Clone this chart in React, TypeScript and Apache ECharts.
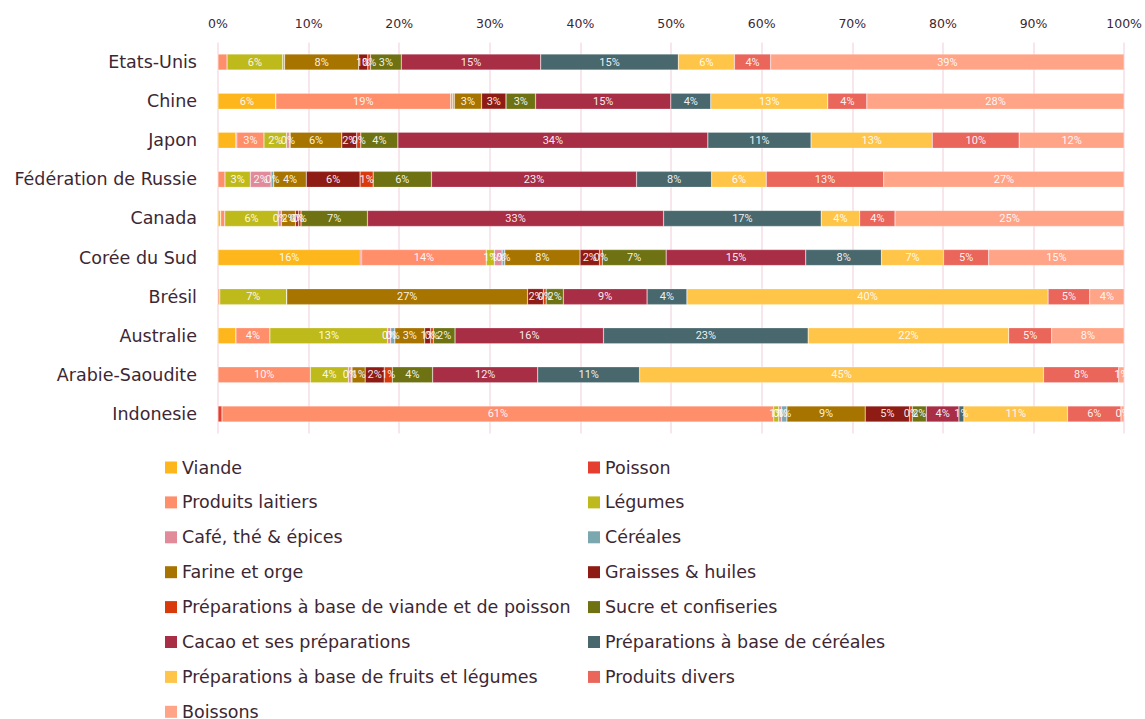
import React, { useEffect, useRef } from "react";
import * as echarts from "echarts";

const countries = [
  "Etats-Unis",
  "Chine",
  "Japon",
  "Fédération de Russie",
  "Canada",
  "Corée du Sud",
  "Brésil",
  "Australie",
  "Arabie-Saoudite",
  "Indonesie",
];

const xTicks = [0, 10, 20, 30, 40, 50, 60, 70, 80, 90, 100];

// Shares (%) per country, in the order of `countries`
const viande = [0, 6.37, 1.98, 0, 0.3, 15.7, 0, 1.98, 0, 0];
const poisson = [0, 0, 0.1, 0, 0, 0.15, 0, 0, 0, 0.44];
const produitsLaitiers = [1.0, 19.27, 3.0, 0.77, 0.45, 13.74, 0.2, 3.75, 10.2, 60.95];
const legumes = [6.15, 0.2, 2.5, 2.8, 5.9, 0.9, 7.4, 13.0, 4.2, 0.55];
const cafe = [0.2, 0.2, 0.3, 2.3, 0.35, 0.85, 0, 0.35, 0.3, 0.3];
const cereales = [0, 0, 0.1, 0.3, 0, 0.3, 0, 0.45, 0.1, 0.6];
const farine = [8.2, 3.0, 5.7, 3.6, 1.57, 8.3, 26.6, 3.3, 1.45, 8.65];
const graisses = [1.0, 2.7, 1.65, 5.95, 0.3, 2.15, 1.75, 0.65, 2.1, 4.9];
const prepViande = [0.3, 0, 0.45, 1.45, 0.3, 0.3, 0.3, 0.3, 0.9, 0.3];
const sucre = [3.4, 3.25, 4.1, 6.45, 7.33, 7.05, 1.9, 2.4, 4.45, 1.55];
const cacao = [15.4, 14.9, 34.25, 22.7, 32.7, 15.4, 9.25, 16.4, 11.6, 3.6];
const prepCereales = [15.2, 4.4, 11.4, 8.3, 17.4, 8.35, 4.4, 22.6, 11.25, 0.55];
const prepFruits = [6.2, 12.9, 13.4, 6.05, 4.25, 6.85, 39.9, 22.15, 44.6, 11.45];
const divers = [4.0, 4.3, 9.6, 13.0, 3.9, 4.97, 4.6, 4.75, 8.3, 5.9];
const boissons = [39.05, 28.35, 11.6, 26.6, 25.3, 14.95, 3.8, 8.0, 0.6, 0.35];

const seriesNames = [
  "Viande",
  "Poisson",
  "Produits laitiers",
  "Légumes",
  "Café, thé & épices",
  "Céréales",
  "Farine et orge",
  "Graisses & huiles",
  "Préparations à base de viande et de poisson",
  "Sucre et confiseries",
  "Cacao et ses préparations",
  "Préparations à base de céréales",
  "Préparations à base de fruits et légumes",
  "Produits divers",
  "Boissons",
];

const seriesValues = [
  viande,
  poisson,
  produitsLaitiers,
  legumes,
  cafe,
  cereales,
  farine,
  graisses,
  prepViande,
  sucre,
  cacao,
  prepCereales,
  prepFruits,
  divers,
  boissons,
];

const seriesColors = [
  "#FDB71C",
  "#E53E30",
  "#FF8E6B",
  "#BFBA1B",
  "#E08A9A",
  "#7BA7AE",
  "#A87400",
  "#8E1C14",
  "#D93A0B",
  "#6E7212",
  "#A82E46",
  "#48686E",
  "#FFC548",
  "#EA655A",
  "#FFA487",
];

const TEXT = "#3d2733";
const FONT = "'DejaVu Sans', sans-serif";
const LABEL_FONT = "Roboto, sans-serif";

export default function App() {
  const ref = useRef<HTMLDivElement>(null);

  useEffect(() => {
    if (!ref.current) return;
    const chart = echarts.init(ref.current, undefined, { renderer: "svg" });

    const totals = countries.map((_, i) =>
      seriesValues.reduce((s, arr) => s + arr[i], 0)
    );
    const normalized = seriesValues.map((arr) =>
      arr.map((v, i) => (v / totals[i]) * 100)
    );
    const starts = normalized.map((arr, si) =>
      arr.map((_, i) => {
        let s = 0;
        for (let k = 0; k < si; k++) s += normalized[k][i];
        return s;
      })
    );

    const series = seriesNames.map((name, si) => ({
      name,
      type: "bar",
      stack: "total",
      barWidth: 16,
      data: normalized[si],
      itemStyle: {
        color: seriesColors[si],
        borderColor: "rgba(255,255,255,0.45)",
        borderWidth: 0.5,
      },
      label: {
        show: true,
        position: "inside",
        color: "rgba(255,255,255,0.92)",
        fontFamily: LABEL_FONT,
        fontSize: 11,
        formatter: (p: any) => {
          const v = p.value as number;
          const raw = seriesValues[si][p.dataIndex];
          if (raw < 0.25) return "";
          const center = starts[si][p.dataIndex] + v / 2;
          if (center < 1) return "";
          return Math.round(v) + "%";
        },
      },
      emphasis: { disabled: true },
    }));

    const leftItems = seriesNames.filter((_, i) => i % 2 === 0);
    const rightItems = seriesNames.filter((_, i) => i % 2 === 1);

    const legendBase = {
      orient: "vertical",
      icon: "rect",
      itemWidth: 12,
      itemHeight: 12,
      itemGap: 14.9,
      padding: 0,
      height: 320,
      itemStyle: { borderWidth: 0 },
      textStyle: {
        color: TEXT,
        fontFamily: FONT,
        fontSize: 17.5,
        lineHeight: 20,
      },
      selectedMode: false,
    };

    chart.setOption({
      animation: false,
      textStyle: { fontFamily: FONT },
      grid: { left: 218, right: 17, top: 42.5, height: 391 },
      xAxis: {
        type: "value",
        position: "top",
        min: 0,
        max: 100,
        interval: 10,
        axisLine: { show: false },
        axisTick: { show: false },
        axisLabel: {
          color: TEXT,
          fontSize: 12.5,
          fontFamily: FONT,
          margin: 13,
          formatter: (v: number) => (xTicks.includes(v) ? v + "%" : ""),
        },
        splitLine: { show: true, lineStyle: { color: "#f4dfe7", width: 1.5 } },
      },
      yAxis: {
        type: "category",
        inverse: true,
        data: countries,
        axisLine: { show: false },
        axisTick: { show: false },
        axisLabel: {
          color: TEXT,
          fontSize: 17.5,
          fontFamily: FONT,
          margin: 21,
        },
      },
      legend: [
        { ...legendBase, left: 165, top: 457.5, data: leftItems },
        { ...legendBase, left: 588, top: 457.5, data: rightItems },
      ],
      series,
    });

    return () => chart.dispose();
  }, []);

  return (
    <div
      ref={ref}
      style={{ position: "fixed", left: 0, top: 0, width: 1145, height: 719, background: "#fff" }}
    />
  );
}
